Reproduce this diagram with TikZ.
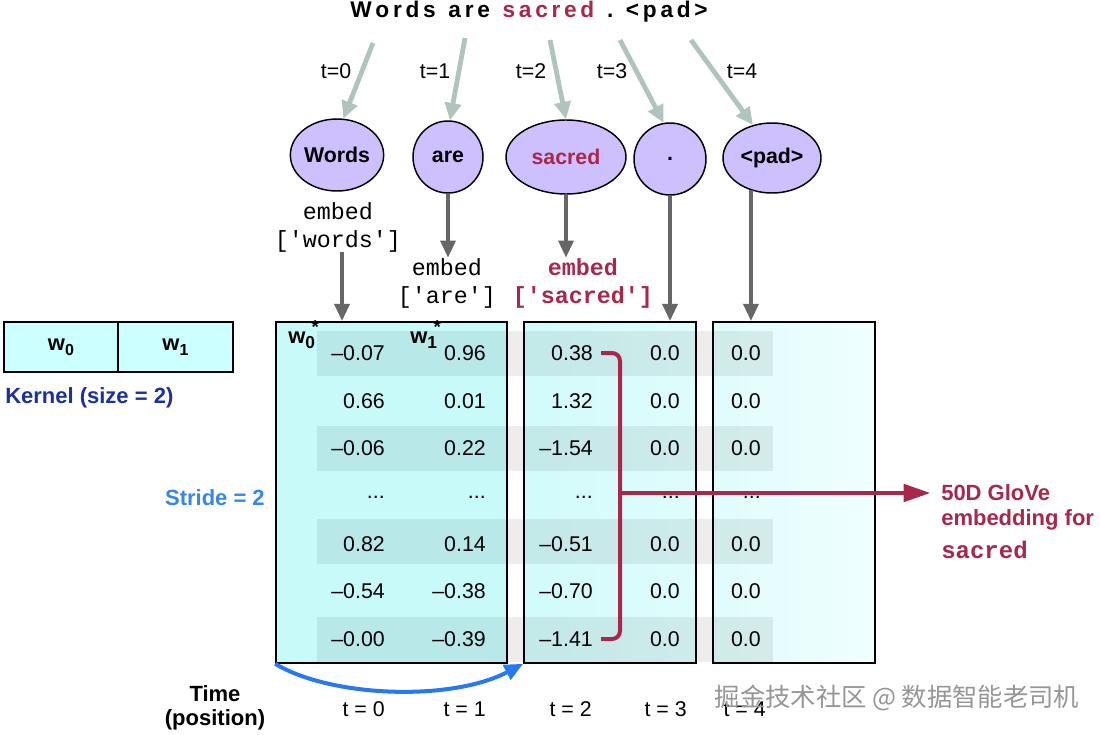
\documentclass[tikz,border=0pt]{standalone}
\usepackage{fontspec}
\setmainfont{Liberation Sans}
\setmonofont{Liberation Mono}
\newfontfamily\cjk{Noto Sans CJK SC}
\usetikzlibrary{arrows.meta,shapes.geometric,calc}
\newcommand\myfs[1]{\fontsize{#1}{#1}\selectfont}
\newcommand\wsub[1]{w\raisebox{-3.5pt}{\myfs{12}#1}}
\newcommand\wsubstar[1]{w\rlap{\raisebox{-4pt}{\myfs{13}#1}}\raisebox{7pt}{\myfs{14}\,\,*}}
\newcommand\sq{\textquotesingle}
\newcommand\tdots{.{}.{}.}
\newcommand\tk{\kern2.8pt}
\newcommand\tw{\hspace{9.5pt}}
\definecolor{lav}{RGB}{206,192,255}
\definecolor{crim}{RGB}{168,40,75}
\definecolor{arrowgreen}{RGB}{176,196,189}
\definecolor{arrowgray}{RGB}{102,102,102}
\definecolor{cyanA}{RGB}{200,250,250}
\definecolor{cyanB}{RGB}{224,252,252}
\definecolor{cyanC}{RGB}{240,255,255}
\definecolor{kcyan}{RGB}{204,255,255}
\definecolor{kblue}{RGB}{28,48,160}
\definecolor{sblue}{RGB}{55,135,235}
\definecolor{cblue}{RGB}{40,120,240}
\definecolor{wmgray}{RGB}{150,150,150}
\begin{document}
\begin{tikzpicture}[x=0.75pt,y=-0.75pt,
  greenarrow/.style={draw=arrowgreen, line width=3.6pt, -{Triangle[length=13pt,width=12pt]}},
  grayarrow/.style={draw=arrowgray, line width=3.4pt, -{Triangle[length=13pt,width=11pt]}},
  tok/.style={ellipse, draw=black, line width=1.1pt, fill=lav, inner sep=0pt, font=\bfseries\myfs{16}},
  tlab/.style={inner sep=0pt, font=\myfs{16}},
  embtxt/.style={inner sep=0pt, align=center, font=\ttfamily\fontsize{17.5}{21}\selectfont},
  box/.style={draw=black, line width=1.2pt, inner sep=0pt},
  num/.style={anchor=east, inner sep=0pt, font=\myfs{16}},
  band/.style={fill=black, fill opacity=0.07},
  redline/.style={draw=crim, line width=3pt},
  redarrow/.style={draw=crim, line width=3pt, -{Triangle[length=20pt,width=13pt]}},
  bluearrow/.style={draw=cblue, line width=3pt, -{Triangle[length=14pt,width=12pt]}},
  lbl/.style={inner sep=0pt, font=\bfseries\myfs{16.5}}]
\useasboundingbox (0,0) rectangle (1100,735);
\fill[white] (0,0) rectangle (1100,735);

% title
\node[inner sep=0pt, font=\bfseries\myfs{17}] (title) at (529,12) {W\tk o\tk r\tk d\tk s\tw a\tk r\tk e\tw\textcolor{crim}{s\tk a\tk c\tk r\tk e\tk d}\tw.\tw<\tk p\tk a\tk d\tk>};

% token ellipses
\node[tok, minimum width=69pt, minimum height=54pt] (words) at (337,155) {Words};
\node[tok, minimum width=52.5pt, minimum height=54pt] (are) at (448,157) {are};
\node[tok, minimum width=90pt, minimum height=55.5pt, text=crim] (sacred) at (566,157) {sacred};
\node[tok, minimum width=54pt, minimum height=54pt] (dot) at (670,159) {.};
\node[tok, minimum width=73.5pt, minimum height=52.5pt] (pad) at (772,158) {<pad>};

% time labels (top)
\node[tlab] (tt0) at (336,71) {t=0};
\node[tlab] (tt1) at (435,71) {t=1};
\node[tlab] (tt2) at (531,71) {t=2};
\node[tlab] (tt3) at (612,71) {t=3};
\node[tlab] (tt4) at (742,71) {t=4};

% green arrows from title to tokens
\coordinate (s0) at (373,43);
\coordinate (s1) at (465,38);
\coordinate (s2) at (550,40);
\coordinate (s3) at (620,40);
\coordinate (s4) at (691,40);
\draw[greenarrow] (s0) -- (words.80);
\draw[greenarrow] (s1) -- (are.87);
\draw[greenarrow] (s2) -- (sacred.north);
\draw[greenarrow] (s3) -- (dot.100);
\draw[greenarrow] (s4) -- (pad.120);

% embed texts
\node[embtxt] (embW) at (338,227) {embed\\{}[\sq words\sq]};
\node[embtxt] (embA) at (447,283) {embed\\{}[\sq are\sq]};
\node[embtxt, text=crim, font=\ttfamily\bfseries\fontsize{17.5}{21}\selectfont] (embS) at (583,283) {embed\\{}[\sq sacred\sq]};

% kernel
\node[box, fill=kcyan, minimum width=85.5pt, minimum height=37.5pt, font=\bfseries\myfs{16.5}] (k0) at (61,347) {\wsub{0}};
\node[box, fill=kcyan, minimum width=86.25pt, minimum height=37.5pt, font=\bfseries\myfs{16.5}] (k1) at (175.5,347) {\wsub{1}};
\node[lbl, anchor=west, text=kblue] (kern) at (5,398) {Kernel (size = 2)};
\node[lbl, anchor=east, text=sblue] (stride) at (265,498) {Stride = 2};

% matrix boxes
\node[box, fill=cyanA, minimum width=173.25pt, minimum height=255.75pt] (box1) at (391.5,492.5) {};
\node[box, left color=cyanA!60!cyanB, right color=cyanB, minimum width=129pt, minimum height=255.75pt] (box2) at (610,492.5) {};
\node[box, left color=cyanB, right color=cyanC, minimum width=121.5pt, minimum height=255.75pt] (box3) at (794,492.5) {};

% gray arrows
\draw[grayarrow] (are.south) -- (are.south |- embA.north);
\draw[grayarrow] (sacred.south) -- (sacred.south |- embS.north);
\draw[grayarrow] ([xshift=3pt]embW.south) -- ([xshift=3pt]embW.south |- box1.north);
\draw[grayarrow] (dot.south) -- (dot.south |- box2.north);
\draw[grayarrow] (pad.237) -- (pad.237 |- box3.north);

% row bands
\fill[band] (317,331) rectangle (773,376);
\fill[band] (317,426) rectangle (773,471);
\fill[band] (317,519) rectangle (773,564);
\fill[band] (317,617) rectangle (773,662);

% weight labels
\node[inner sep=0pt, anchor=base west, font=\bfseries\myfs{16.5}] (w0s) at (288,343) {\wsubstar{0}};
\node[inner sep=0pt, anchor=base west, font=\bfseries\myfs{16.5}] (w1s) at (410,343) {\wsubstar{1}};

% values
\foreach \r/\y/\a/\b/\c/\d/\e in {
  0/353/–0.07/0.96/0.38/0.0/0.0,
  1/401/0.66/0.01/1.32/0.0/0.0,
  2/448/–0.06/0.22/–1.54/0.0/0.0,
  3/497/\tdots/\tdots/\tdots/\tdots/\tdots,
  4/544/0.82/0.14/–0.51/0.0/0.0,
  5/591/–0.54/–0.38/–0.70/0.0/0.0,
  6/639/–0.00/–0.39/–1.41/0.0/0.0}{
  \node[num] (v\r0) at (385,\y) {\a};
  \node[num] (v\r1) at (486,\y) {\b};
  \node[num] (v\r2) at (593,\y) {\c};
  \node[num] (v\r3) at (680,\y) {\d};
  \node[num] (v\r4) at (761,\y) {\e};
}

% red bracket and arrow
\coordinate (brk) at (620,493);
\draw[redline, rounded corners=6pt] ($(v02.east)+(8,0)$) -| (brk) |- ($(v62.east)+(8,0)$);
\node[lbl, anchor=west, text=crim] (glove1) at (941,493) {50D GloVe};
\node[lbl, anchor=west, text=crim] (glove2) at (941,520) {embedding for};
\node[inner sep=0pt, anchor=west, text=crim, font=\ttfamily\bfseries\myfs{18}] (glove3) at (941,550) {sacred};
\draw[redarrow, shorten >=8pt] (brk) -- (glove1.west);

% stride curve
\draw[bluearrow] (box1.south west) .. controls (330,697) and (450,702) .. (box2.south west);

% bottom labels
\node[lbl] (time) at (215,694) {Time};
\node[lbl] (posn) at (215,720) {(position)};
\node[num] (b0) at (385,709) {t = 0};
\node[num] (b1) at (486,709) {t = 1};
\node[num] (b2) at (592,709) {t = 2};
\node[num] (b3) at (687,709) {t = 3};
\node[num] (b4) at (766,709) {t = 4};

% watermark
\node[inner sep=0pt, font=\cjk\myfs{19}, text=wmgray] (wm) at (897,698) {掘金技术社区 @ 数据智能老司机};
\end{tikzpicture}
\end{document}
